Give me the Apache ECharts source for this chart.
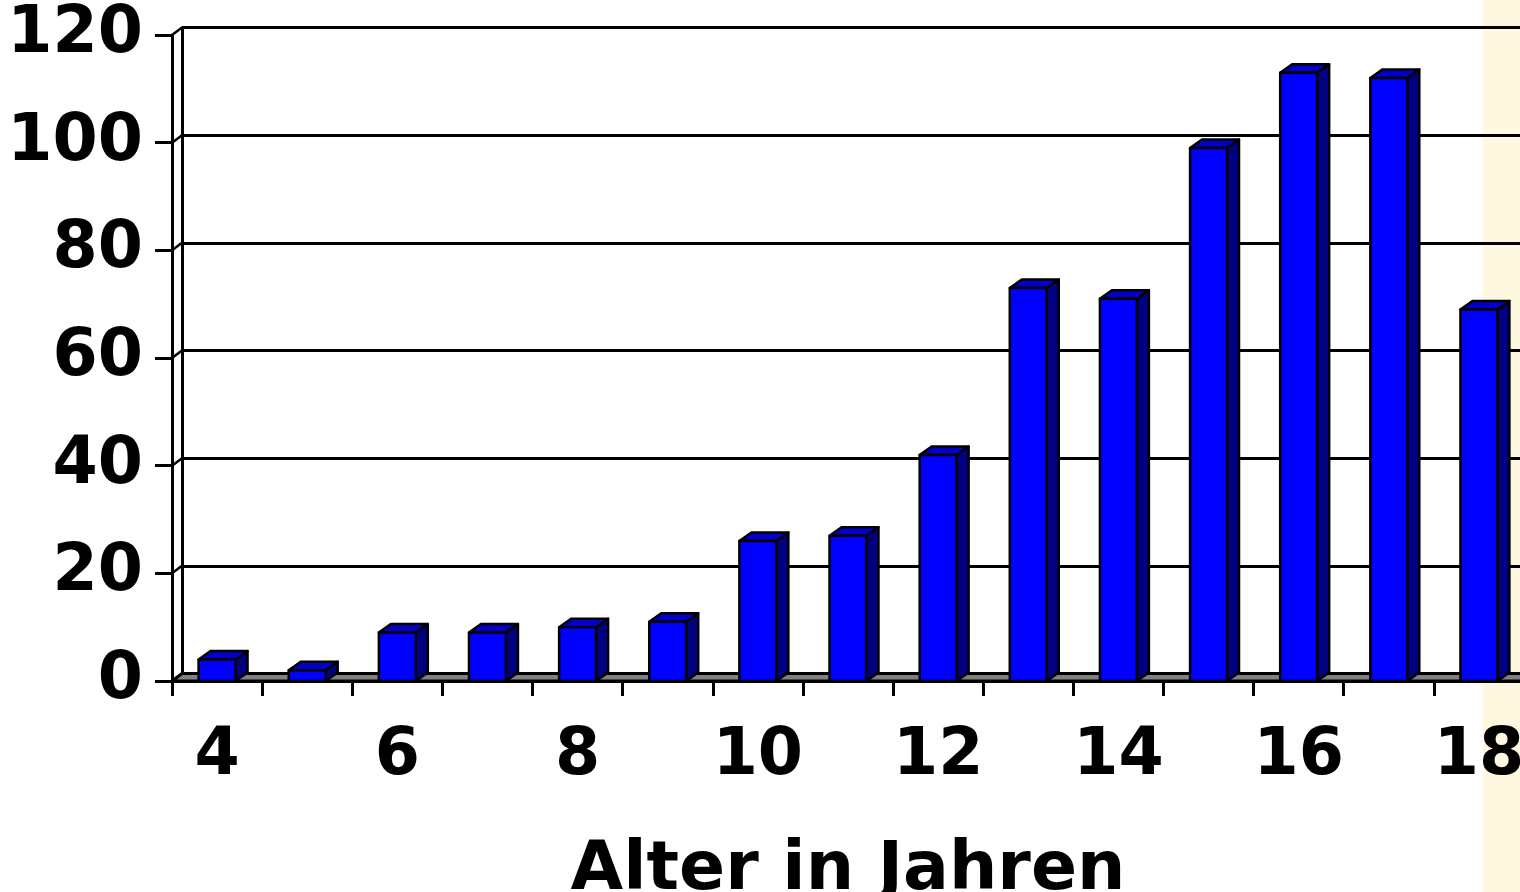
<!DOCTYPE html>
<html><head><meta charset="utf-8">
<script src="https://cdn.jsdelivr.net/npm/echarts/dist/echarts.min.js"></script>
<style>
html,body{margin:0;padding:0;background:#ffffff;overflow:hidden;}
#strip{position:absolute;left:1483px;top:0;width:37px;height:892px;background:#FFF8E1;}
#chart{position:absolute;left:0;top:0;width:1520px;height:892px;}
</style></head><body>
<div id="strip"></div>
<div id="chart"></div>
<script>
// ---- data ----
const categories = ['4','5','6','7','8','9','10','11','12','13','14','15','16','17','18'];
const values = [4, 2, 9, 9, 10, 11, 26, 27, 42, 73, 71, 99, 113, 112, 69];
const yTickValues = [0, 20, 40, 60, 80, 100, 120];
const xAxisTitle = 'Alter in Jahren';

// ---- layout / style ----
const FONT = 'DejaVu Sans';
const WALL_DX = 10, WALL_DY = -7.5;     // depth offset of back wall
const BAR_DX = 12, BAR_DY = -8.5;        // depth offset of bars
const BAR_RATIO = 0.41;
const front = {left: 172, top: 35, right: -4, bottom: 211};

const chart = echarts.init(document.getElementById('chart'), null, {renderer: 'canvas'});

const option = {
  backgroundColor: 'transparent',
  animation: false,
  grid: [
    {left: front.left, top: front.top, right: front.right, bottom: front.bottom, outerBoundsMode: 'none', containLabel: false},
    {left: front.left + WALL_DX, top: front.top + WALL_DY, right: front.right - WALL_DX, bottom: front.bottom - WALL_DY, outerBoundsMode: 'none', containLabel: false}
  ],
  xAxis: [
    {
      type: 'category', gridIndex: 0, data: categories, boundaryGap: true,
      axisLine: {show: true, lineStyle: {color: '#000', width: 3}},
      axisTick: {show: true, interval: 0, length: 15, alignWithLabel: false, lineStyle: {color: '#000', width: 3}},
      axisLabel: {show: true, interval: 1, margin: 76, verticalAlign: 'middle', color: '#000',
        fontFamily: FONT, fontWeight: 'bold', fontSize: 65},
      name: xAxisTitle, nameLocation: 'middle', nameGap: 190,
      nameTextStyle: {color: '#000', fontFamily: FONT, fontWeight: 'bold', fontSize: 68, verticalAlign: 'middle'},
      splitLine: {show: false}
    },
    {
      type: 'category', gridIndex: 1, data: categories, boundaryGap: true,
      axisLine: {show: false}, axisTick: {show: false}, axisLabel: {show: false}, splitLine: {show: false}
    }
  ],
  yAxis: [
    {
      type: 'value', gridIndex: 0, min: 0, max: 120, interval: 20,
      axisLine: {show: true, lineStyle: {color: '#000', width: 3}},
      axisTick: {show: true, length: 17, lineStyle: {color: '#000', width: 3}},
      axisLabel: {show: true, margin: 29, color: '#000', fontFamily: FONT, fontWeight: 'bold', fontSize: 65,
        formatter: v => yTickValues.includes(v) ? String(v) : ''},
      splitLine: {show: false}
    },
    {
      type: 'value', gridIndex: 1, min: 0, max: 120, interval: 20,
      axisLine: {show: true, lineStyle: {color: '#000', width: 3}},
      axisTick: {show: false}, axisLabel: {show: false},
      splitLine: {show: true, lineStyle: {color: '#000', width: 3}}
    }
  ],
  series: [
    {
      // floor and wall connectors
      type: 'custom', xAxisIndex: 0, yAxisIndex: 0, z: 1, silent: true,
      data: [[0, 0]],
      renderItem: function (params, api) {
        const cs = params.coordSys;
        const y0 = api.coord([0, 0])[1];
        const L = cs.x, R = cs.x + cs.width + 40;
        const children = [{
          type: 'polygon',
          shape: {points: [[L, y0], [R, y0], [R + WALL_DX, y0 + WALL_DY], [L + WALL_DX, y0 + WALL_DY]]},
          style: {fill: '#808080', stroke: '#000', lineWidth: 3}
        }];
        yTickValues.forEach(function (v) {
          const y = api.coord([0, v])[1];
          children.push({type: 'line', shape: {x1: L, y1: y, x2: L + WALL_DX, y2: y + WALL_DY},
            style: {stroke: '#000', lineWidth: 2.5}});
        });
        return {type: 'group', children: children};
      }
    },
    {
      type: 'custom', xAxisIndex: 0, yAxisIndex: 0, z: 3,
      data: values.map((v, i) => [i, v]),
      encode: {x: 0, y: 1},
      renderItem: function (params, api) {
        const i = api.value(0), v = api.value(1);
        const top = api.coord([i, v]);
        const base = api.coord([i, 0]);
        const band = api.size([1, 0])[0];
        const w = band * BAR_RATIO;
        const xl = top[0] - w / 2, xr = top[0] + w / 2;
        const yt = top[1], yb = base[1];
        const st = {stroke: '#000', lineWidth: 2.5, lineJoin: 'round'};
        return {type: 'group', children: [
          {type: 'polygon', shape: {points: [[xr, yb], [xr + BAR_DX, yb + BAR_DY], [xr + BAR_DX, yt + BAR_DY], [xr, yt]]},
            style: Object.assign({fill: '#000080'}, st)},
          {type: 'polygon', shape: {points: [[xl, yt], [xl + BAR_DX, yt + BAR_DY], [xr + BAR_DX, yt + BAR_DY], [xr, yt]]},
            style: Object.assign({fill: '#0000C8'}, st)},
          {type: 'rect', shape: {x: xl, y: yt, width: w, height: yb - yt},
            style: Object.assign({fill: '#0000FF'}, st)}
        ]};
      }
    }
  ]
};
chart.setOption(option);
</script>
</body></html>
